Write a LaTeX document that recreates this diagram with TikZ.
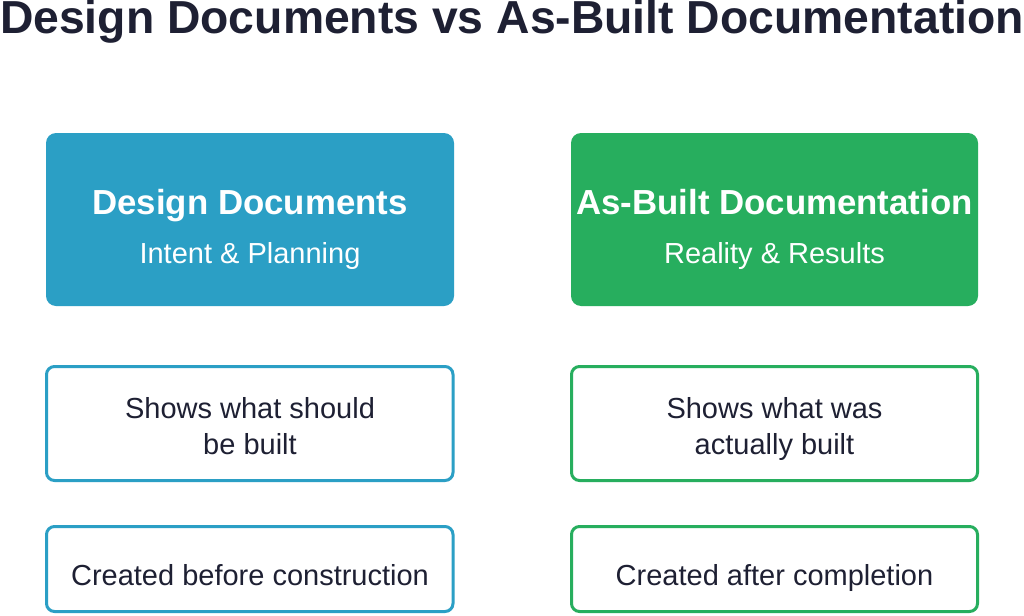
\documentclass[tikz,border=0pt]{standalone}
\usepackage{fontspec}
\setmainfont{Liberation Sans}
\definecolor{dblue}{HTML}{2B9FC5}
\definecolor{dgreen}{HTML}{27AE5E}
\definecolor{ink}{HTML}{1E2033}
\begin{document}
\begin{tikzpicture}[x=1pt,y=-1pt,
  solidbox/.style={rectangle,rounded corners=10pt,inner sep=0pt,outer sep=0pt,draw=none},
  linebox/.style={rectangle,rounded corners=8pt,inner sep=0pt,outer sep=0pt,fill=white,line width=3pt},
  headtxt/.style={anchor=base,inner sep=0pt,text=white,font=\fontsize{34.8}{40}\selectfont\bfseries},
  subtxt/.style={anchor=base,inner sep=0pt,text=white,font=\fontsize{29}{34}\selectfont},
  bodytxt/.style={anchor=base,inner sep=0pt,text=ink,font=\fontsize{29}{34}\selectfont},
  titletxt/.style={anchor=base,inner sep=0pt,text=ink,font=\fontsize{46.3}{54}\selectfont\bfseries}]
\useasboundingbox (0,0) rectangle (1024,615);
\fill[white] (0,0) rectangle (1024,615);
\node[titletxt] (title) at (512,33.5) {Design Documents vs As-Built Documentation};
% left column
\node[solidbox,fill=dblue,minimum width=408pt,minimum height=173pt] (dd) at (250,219.5) {};
\node[headtxt] (ddh) at (250,214) {Design Documents};
\node[subtxt] (dds) at (250,263) {Intent \& Planning};
\node[linebox,draw=dblue,minimum width=406.5pt,minimum height=114pt] (dd1) at (249.75,423.5) {};
\node[bodytxt] (dd1a) at (250,418) {Shows what should};
\node[bodytxt] (dd1b) at (250,454) {be built};
\node[linebox,draw=dblue,minimum width=406.5pt,minimum height=85pt] (dd2) at (249.75,569) {};
\node[bodytxt] (dd2a) at (250,585) {Created before construction};
% right column
\node[solidbox,fill=dgreen,minimum width=407pt,minimum height=173pt] (ab) at (774.5,219.5) {};
\node[headtxt] (abh) at (774.5,214) {As-Built Documentation};
\node[subtxt] (abs) at (774.5,263) {Reality \& Results};
\node[linebox,draw=dgreen,minimum width=406pt,minimum height=114pt] (ab1) at (774.5,423.5) {};
\node[bodytxt] (ab1a) at (774.5,418) {Shows what was};
\node[bodytxt] (ab1b) at (774.5,454) {actually built};
\node[linebox,draw=dgreen,minimum width=406pt,minimum height=85pt] (ab2) at (774.5,569) {};
\node[bodytxt] (ab2a) at (774.5,585) {Created after completion};
\end{tikzpicture}
\end{document}
